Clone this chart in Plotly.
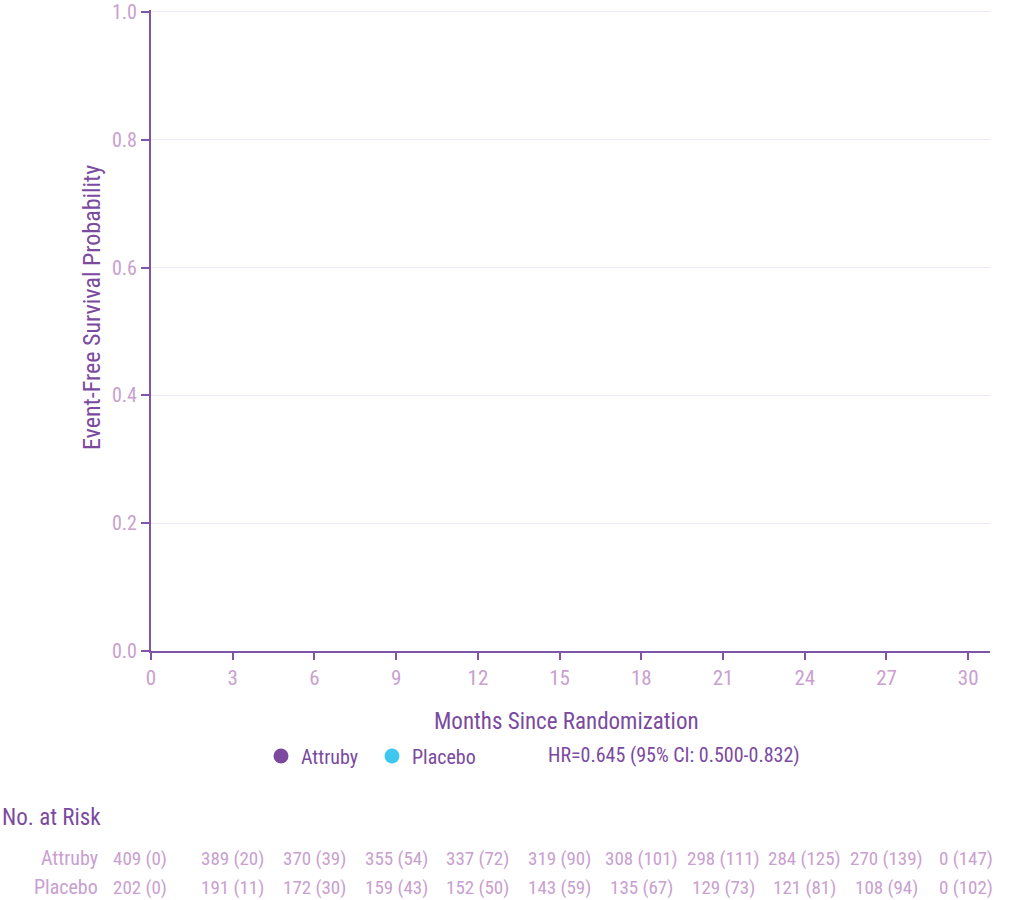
import plotly.graph_objects as go

months = [0, 3, 6, 9, 12, 15, 18, 21, 24, 27, 30]
y_ticks = [0.0, 0.2, 0.4, 0.6, 0.8, 1.0]
y_tick_labels = ["0.0", "0.2", "0.4", "0.6", "0.8", "1.0"]
series_names = ["Attruby", "Placebo"]
series_colors = ["#7b4a9f", "#3ec8f0"]
attruby_at_risk = ["409 (0)", "389 (20)", "370 (39)", "355 (54)", "337 (72)", "319 (90)",
                   "308 (101)", "298 (111)", "284 (125)", "270 (139)", "0 (147)"]
placebo_at_risk = ["202 (0)", "191 (11)", "172 (30)", "159 (43)", "152 (50)", "143 (59)",
                   "135 (67)", "129 (73)", "121 (81)", "108 (94)", "0 (102)"]
hr_text = "HR=0.645 (95% CI: 0.500-0.832)"

FONT = "Roboto Condensed, Liberation Sans Narrow, DejaVu Sans Condensed, sans-serif"
DARK = "#7b4a9f"
LIGHT = "#c9a0d0"
AXIS = "#7e55a8"
GRID = "#efe8f2"

W, H = 1029, 900
L, R, T, B = 151, 39, 10, 249
PH = H - T - B
YMAX = 1.003


def py(pix):
    return (H - B - pix) / PH


def px(pix):
    return (pix - L) / (W - L - R)


fig = go.Figure()
for name, color in zip(series_names, series_colors):
    fig.add_trace(go.Scatter(x=[None], y=[None], mode="markers", name=name,
                             marker=dict(color=color, size=15, symbol="circle"),
                             showlegend=True))

fig.update_layout(
    width=W, height=H,
    margin=dict(l=L, r=R, t=T, b=B, autoexpand=False),
    paper_bgcolor="white", plot_bgcolor="white",
    font=dict(family=FONT, color=DARK),
    showlegend=True,
    legend=dict(orientation="h", x=px(261), y=py(756), yanchor="middle", xanchor="left",
                entrywidth=66, entrywidthmode="pixels",
                font=dict(size=20, family=FONT), itemclick=False,
                bgcolor="rgba(0,0,0,0)"),
    xaxis=dict(range=[0, 30.8], tickvals=months, ticktext=[str(m) for m in months],
               showline=True, linecolor=AXIS, linewidth=2, ticks="outside",
               ticklen=7, tickwidth=2, tickcolor=AXIS, showgrid=False, zeroline=False,
               automargin=False,
               tickfont=dict(size=21, color=LIGHT, family=FONT)),
    yaxis=dict(range=[0, YMAX], tickvals=y_ticks, ticktext=y_tick_labels,
               showline=True, linecolor=AXIS, linewidth=2, ticks="outside",
               ticklen=8, tickwidth=2, tickcolor=AXIS, showgrid=True, gridcolor=GRID,
               gridwidth=1, zeroline=False, ticklabeloverflow="allow", automargin=False,
               tickfont=dict(size=20, color=LIGHT, family=FONT)),
)

ann = []
ann.append(dict(text="Event-Free Survival Probability", textangle=-90, xref="paper", yref="paper",
                x=px(92), y=py(308), xanchor="center", yanchor="middle", showarrow=False,
                font=dict(size=24, color=DARK, family=FONT)))
ann.append(dict(text="Months Since Randomization", xref="paper", yref="paper",
                x=px(566), y=py(721), xanchor="center", yanchor="middle", showarrow=False,
                font=dict(size=23, color=DARK, family=FONT)))
ann.append(dict(text=hr_text, xref="paper", yref="paper",
                x=px(546), y=py(755), xanchor="left", yanchor="middle", showarrow=False,
                font=dict(size=20, color=DARK, family=FONT)))
ann.append(dict(text="No. at Risk", xref="paper", yref="paper",
                x=px(0), y=py(817), xanchor="left", yanchor="middle", showarrow=False,
                font=dict(size=23, color=DARK, family=FONT)))
for label, row, ypix in [(series_names[0], attruby_at_risk, 858), (series_names[1], placebo_at_risk, 887)]:
    ann.append(dict(text=label, xref="paper", yref="paper", x=px(100), y=py(ypix),
                    xanchor="right", yanchor="middle", showarrow=False,
                    font=dict(size=20, color=LIGHT, family=FONT)))
    for i, (m, val) in enumerate(zip(months, row)):
        ann.append(dict(text=val, xref="x", yref="paper", x=m, y=py(ypix),
                        xanchor="center", yanchor="middle", showarrow=False,
                        xshift=-11 if i == 0 else (-2 if i == len(months) - 1 else 0),
                        font=dict(size=19, color=LIGHT, family=FONT)))
fig.update_layout(annotations=ann)

fig.write_html("out.html")
